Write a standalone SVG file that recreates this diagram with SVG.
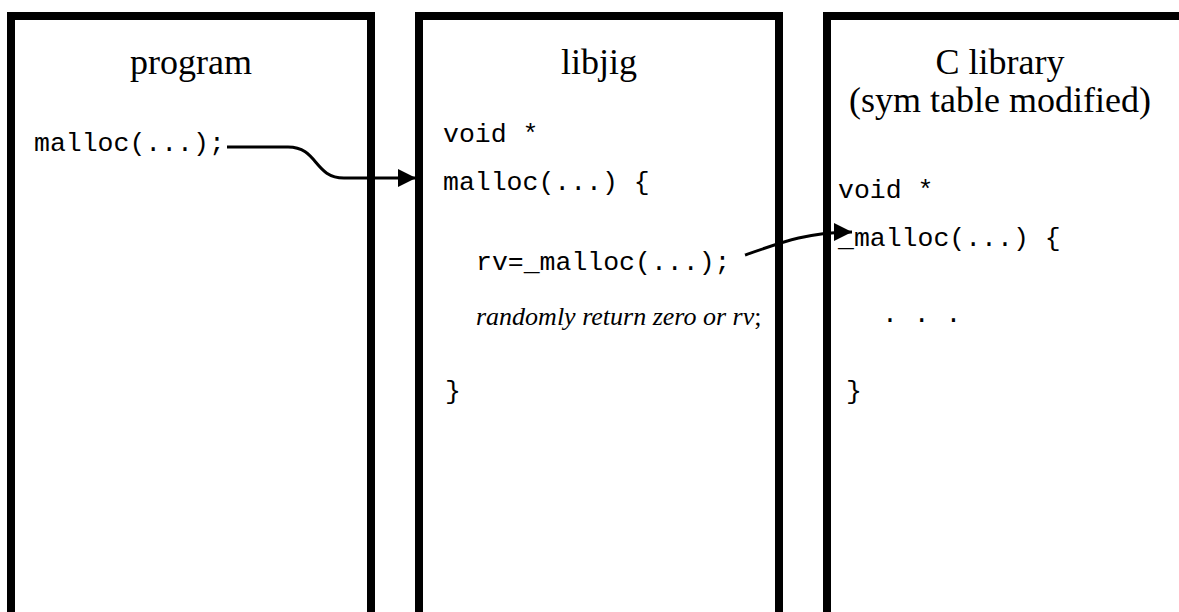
<svg xmlns="http://www.w3.org/2000/svg" width="1179" height="612" viewBox="0 0 1179 612">
<defs>
<style>
.box{fill:#fff;stroke:#000;stroke-width:8}
.title{font-family:"Liberation Serif",serif;font-size:36px;text-anchor:middle;fill:#000}
.code{font-family:"Liberation Mono",monospace;font-size:26.5px;fill:#000}
.it{font-family:"Liberation Serif",serif;font-size:26px;font-style:italic;fill:#000}
.conn{fill:none;stroke:#000;stroke-width:3}
</style>
<marker id="ah" markerWidth="6" markerHeight="6" refX="6" refY="3" orient="auto" markerUnits="strokeWidth">
<path d="M0,0 L6,3 L0,6 Z" fill="#000"/>
</marker>
</defs>
<g id="program">
<rect class="box" x="11" y="16" width="360" height="600"/>
<text class="title" x="191" y="74">program</text>
<text class="code" x="34" y="151">malloc(...);</text>
</g>
<g id="libjig">
<rect class="box" x="419" y="16" width="360" height="600"/>
<text class="title" x="599" y="74">libjig</text>
<text class="code" x="443" y="142">void *</text>
<text class="code" x="443" y="190">malloc(...) {</text>
<text class="code" x="476" y="270">rv=_malloc(...);</text>
<text class="it" x="476" y="325">randomly return zero or rv<tspan font-style="normal">;</tspan></text>
<text class="code" x="445" y="399">}</text>
</g>
<g id="clib">
<rect class="box" x="827" y="16" width="360" height="600"/>
<text class="title" x="1000" y="74">C library</text>
<text class="title" x="1000" y="112">(sym table modified)</text>
<text class="code" x="838" y="198">void *</text>
<text class="code" x="838" y="246">_malloc(...) {</text>
<text class="code" x="882" y="322">. . .</text>
<text class="code" x="846" y="399">}</text>
</g>
<g id="connectors">
<path class="conn" d="M227,147 L288,147 C318,147 314,178 344,178 L416,178" marker-end="url(#ah)"/>
<path class="conn" d="M745,255 C785,241 810,232 852,232" marker-end="url(#ah)"/>
</g>
</svg>
